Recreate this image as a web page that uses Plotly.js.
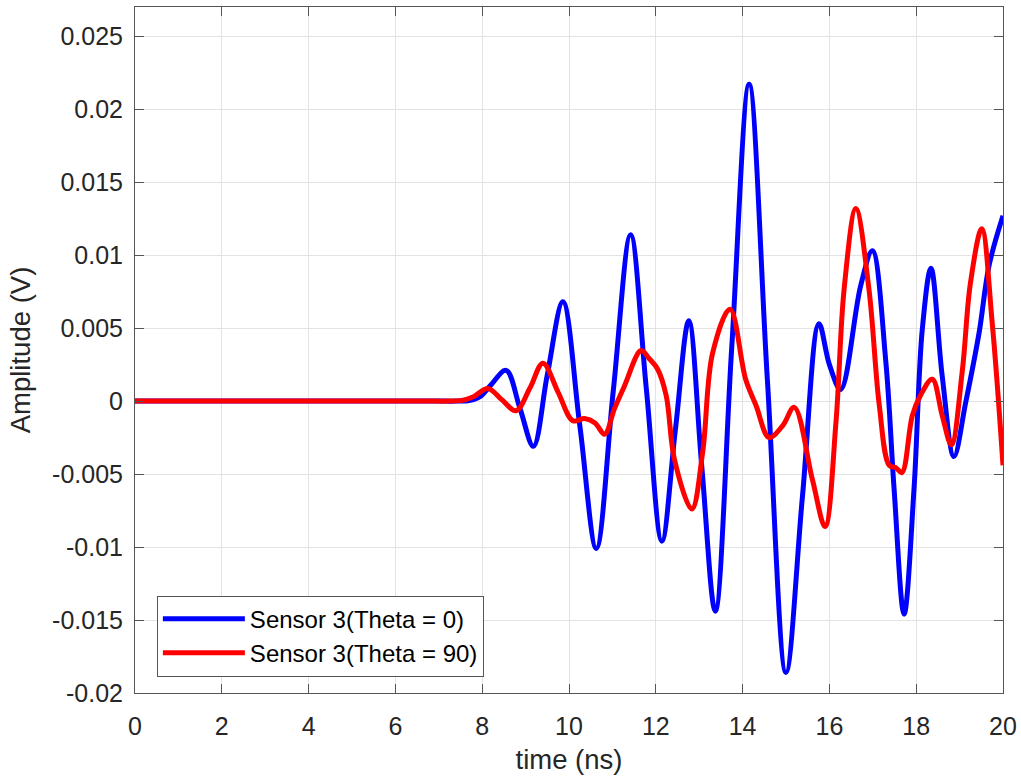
<!DOCTYPE html>
<html>
<head>
<meta charset="utf-8">
<script src="https://cdn.plot.ly/plotly-3.0.1.min.js"></script>
<style>
html,body{margin:0;padding:0;background:#fff;}
#chart{width:1021px;height:778px;}
</style>
</head>
<body>
<div id="chart"></div>
<script>
// Sensor 3 (Theta = 0) — time in ns, amplitude in V
const timeBlue = [0, 2, 4, 6, 7.0, 7.4, 7.7, 7.95, 8.2, 8.55, 8.87, 9.18, 9.5, 9.86, 10.25, 10.63, 11.02, 11.42, 11.78, 12.14, 12.45, 12.76, 13.06, 13.37, 13.75, 14.15, 14.57, 15.0, 15.38, 15.76, 16.0, 16.26, 16.72, 16.99, 17.30, 17.49, 17.72, 17.95, 18.14, 18.34, 18.60, 18.87, 19.14, 19.45, 19.68, 20.0];
const ampBlue = [0, 0, 0, 0, 0, 0, 0.00003, 0.0003, 0.0011, 0.0021, -0.0005, -0.0031, 0.0018, 0.0068, -0.0017, -0.0101, 0.0007, 0.0114, 0.0009, -0.0096, -0.002, 0.0055, -0.0045, -0.0144, 0.0037, 0.0217, 0.0015, -0.0186, -0.0065, 0.0053, 0.0025, 0.0008, 0.0079, 0.0103, 0.0027, -0.006, -0.0146, -0.006, 0.0049, 0.0091, 0.0017, -0.0038, -0.0001, 0.0047, 0.0093, 0.0127];

// Sensor 3 (Theta = 90)
const timeRed = [0, 2, 4, 6, 6.8, 7.2, 7.5, 7.8, 8.13, 8.45, 8.78, 9.1, 9.40, 9.75, 10.09, 10.36, 10.6, 10.82, 11.05, 11.28, 11.66, 11.85, 12.04, 12.24, 12.43, 12.83, 13.08, 13.31, 13.71, 14.07, 14.31, 14.61, 14.92, 15.19, 15.61, 15.90, 16.15, 16.34, 16.61, 16.91, 17.15, 17.38, 17.53, 17.67, 17.91, 18.10, 18.37, 18.60, 18.81, 19.06, 19.25, 19.51, 19.75, 20.0];
const ampRed = [0, 0, 0, 0, 0, 0, 0.00003, 0.0003, 0.00087, 0.0001, -0.00066, 0.0009, 0.0026, 0.0006, -0.00135, -0.0012, -0.0015, -0.00227, -0.0005, 0.00105, 0.00346, 0.0029, 0.0022, 0.00037, -0.004, -0.0074, -0.0035, 0.0033, 0.0063, 0.0015, -0.0003, -0.0025, -0.0017, -0.00043, -0.0054, -0.0086, -0.0015, 0.0077, 0.0132, 0.0077, -0.0003, -0.0044, -0.00456, -0.0049, -0.001, 0.0004, 0.0015, -0.001, -0.003, 0.002, 0.0081, 0.0118, 0.0054, -0.0044];

const seriesNames = ['Sensor 3(Theta = 0)', 'Sensor 3(Theta = 90)'];
const xTickVals = [0, 2, 4, 6, 8, 10, 12, 14, 16, 18, 20];
const xTickText = ['0', '2', '4', '6', '8', '10', '12', '14', '16', '18', '20'];
const yTickVals = [-0.02, -0.015, -0.01, -0.005, 0, 0.005, 0.01, 0.015, 0.02, 0.025];
const yTickText = ['-0.02', '-0.015', '-0.01', '-0.005', '0', '0.005', '0.01', '0.015', '0.02', '0.025'];

const FONT = '"Liberation Sans", Arial, Helvetica, sans-serif';
const AX = '#262626';

const traces = [
  {x: timeBlue, y: ampBlue, name: seriesNames[0], type: 'scatter', mode: 'lines',
   line: {color: '#0000ff', width: 5, shape: 'spline', smoothing: 1}},
  {x: timeRed, y: ampRed, name: seriesNames[1], type: 'scatter', mode: 'lines',
   line: {color: '#ff0000', width: 5, shape: 'spline', smoothing: 1}}
];

const axisCommon = {
  showline: true, linecolor: '#555555', linewidth: 1, mirror: 'ticks',
  ticks: 'inside', ticklen: 9, tickwidth: 1, tickcolor: '#555555',
  showgrid: true, gridcolor: '#e3e3e3', gridwidth: 1, zeroline: false,
  tickfont: {family: FONT, size: 25, color: AX}
};

const layout = {
  width: 1021, height: 778,
  margin: {l: 135, r: 18, t: 7, b: 85, pad: 0},
  paper_bgcolor: '#ffffff', plot_bgcolor: '#ffffff',
  font: {family: FONT, color: AX},
  showlegend: true,
  xaxis: Object.assign({}, axisCommon, {
    range: [0, 20], tickmode: 'array', tickvals: xTickVals, ticktext: xTickText,
    ticklabelstandoff: 11,
    title: {text: 'time (ns)', font: {family: FONT, size: 27.5, color: AX}, standoff: 10}
  }),
  yaxis: Object.assign({}, axisCommon, {
    range: [-0.02, 0.027], tickmode: 'array', tickvals: yTickVals, ticktext: yTickText,
    ticklabelstandoff: 6,
    title: {text: 'Amplitude (V)', font: {family: FONT, size: 27.5, color: AX}, standoff: 13}
  }),
  legend: {
    x: 0.0252, y: 0.024, xanchor: 'left', yanchor: 'bottom',
    bgcolor: '#ffffff', bordercolor: '#555555', borderwidth: 1,
    font: {family: FONT, size: 24, color: '#000000'},
    itemwidth: 82, traceorder: 'normal'
  }
};

Plotly.newPlot('chart', traces, layout, {displayModeBar: false, staticPlot: true});
</script>
</body>
</html>
